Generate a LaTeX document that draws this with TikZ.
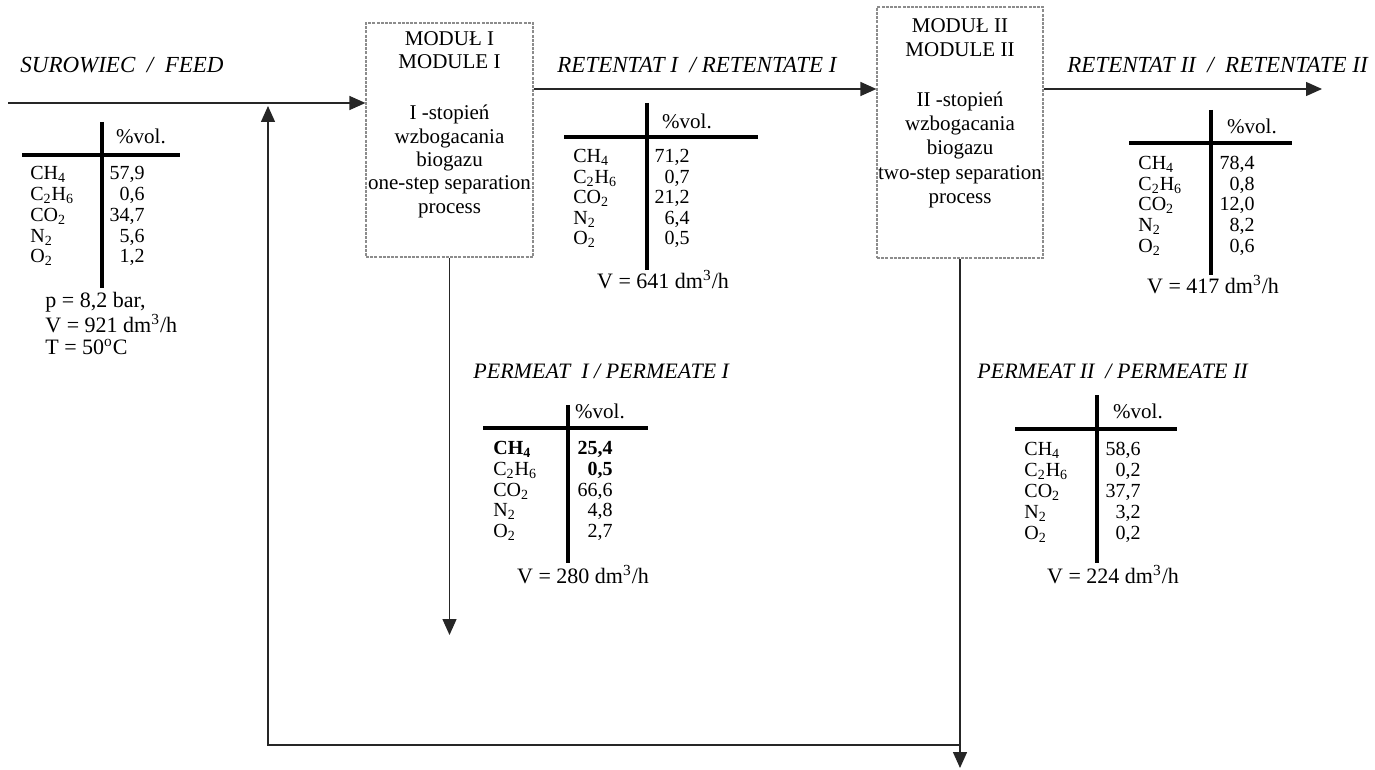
\documentclass[tikz,border=0pt]{standalone}
\usepackage{fontspec}
\setmainfont{Liberation Serif}
\usetikzlibrary{arrows.meta}

\begin{document}
\begin{tikzpicture}[x=0.5pt,y=-0.5pt]
\tikzset{
  every node/.style={inner sep=0pt, font=\fontsize{10}{12}\selectfont},
  flow/.style={line width=0.7pt, draw=black!85, -{Triangle[length=8pt,width=7pt]}},
  modbox/.style={draw=black!45, line width=0.6pt, dash pattern=on 1.5pt off 0.6pt},
  boxtext/.style={anchor=north, align=center},
  lbl/.style={anchor=base west, font=\fontsize{11.5}{13}\selectfont\itshape},
  tline/.style={line width=1.6pt},
  gasname/.style={anchor=base west},
  gasval/.style={anchor=base east},
  vol/.style={anchor=base, font=\fontsize{10.5}{12}\selectfont},
  flowrate/.style={anchor=base, font=\fontsize{11}{13}\selectfont}
}
\useasboundingbox (0,0) rectangle (1375,770);

% Modules
\node[modbox, minimum width=83.5pt, minimum height=117pt] (m1) at (449.5,140) {};
\node[modbox, minimum width=83pt, minimum height=125.5pt] (m2) at (960,132.5) {};
\node[boxtext, font=\fontsize{10.5}{11.65}\selectfont] (m1txt) at (449.5,31)
  {MODUŁ I\\MODULE I\\[14pt]I -stopień\\wzbogacania\\biogazu\\one-step separation\\process};
\node[boxtext, font=\fontsize{10.5}{12.15}\selectfont] (m2txt) at (960,18)
  {MODUŁ II\\MODULE II\\[12.6pt]II -stopień\\wzbogacania\\biogazu\\two-step separation\\process};

% Stream labels
\node[lbl] (feedlbl) at (20,73) {SUROWIEC\ \ /\ \ FEED};
\node[lbl] (ret1lbl) at (557,73) {RETENTAT I\ \ / RETENTATE I};
\node[lbl] (ret2lbl) at (1067,73) {RETENTAT II\ \ /\ \ RETENTATE II};
\node[lbl, font=\fontsize{11}{13}\selectfont\itshape] (per1lbl) at (473,378) {PERMEAT\ \ I / PERMEATE I};
\node[lbl, font=\fontsize{11}{13}\selectfont\itshape] (per2lbl) at (977,378) {PERMEAT II\ \ / PERMEATE II};

% Flows
\coordinate (feedin) at (8,103);
\coordinate (ret) at (0,89);
\coordinate (r2out) at (1322,89);
\coordinate (p1out) at (449.5,635);
\coordinate (p2out) at (960,768);
\coordinate (rc) at (960,745);
\coordinate (rcin) at (268,106);
\draw[flow] (feedin) -- (feedin -| m1.west);
\draw[flow] (m1.east |- ret) -- (m2.west |- ret);
\draw[flow] (m2.east |- ret) -- (r2out);
\draw[flow] (m1.south) -- (p1out);
\draw[flow] (m2.south) -- (p2out);
\draw[flow] (rc) -- (rcin |- rc) -- (rcin);

% Feed composition
\draw[tline] (102,122) -- (102,288);
\draw[tline] (22,155) -- (180,155);
\node[vol] (fvol) at (141,143.5) {\%vol.};
\foreach \g/\v [count=\i from 0] in {CH\textsubscript{4}/{57,9}, C\textsubscript{2}H\textsubscript{6}/{0,6}, CO\textsubscript{2}/{34,7}, N\textsubscript{2}/{5,6}, O\textsubscript{2}/{1,2}}{
  \node[gasname] (fn\i) at ({30},{180+20.75*\i}) {\g};
  \node[gasval] (fv\i) at ({145},{180+20.75*\i}) {\v};
}
\node[anchor=north west, align=left, font=\fontsize{11}{11}\selectfont] (fcond) at (45,292)
  {p = 8,2 bar,\\V = 921 dm\textsuperscript{3}/h\\T = 50\textsuperscript{o}C};

% Retentate I composition
\draw[tline] (647,103) -- (647,270);
\draw[tline] (564,137) -- (758,137);
\node[vol] (r1vol) at (687,128.5) {\%vol.};
\foreach \g/\v [count=\i from 0] in {CH\textsubscript{4}/{71,2}, C\textsubscript{2}H\textsubscript{6}/{0,7}, CO\textsubscript{2}/{21,2}, N\textsubscript{2}/{6,4}, O\textsubscript{2}/{0,5}}{
  \node[gasname] (r1n\i) at ({573},{163+20.5*\i}) {\g};
  \node[gasval] (r1v\i) at ({690},{163+20.5*\i}) {\v};
}
\node[flowrate] (r1rate) at (663,288.5) {V = 641 dm\textsuperscript{3}/h};

% Retentate II composition
\draw[tline] (1211,110) -- (1211,275);
\draw[tline] (1129,143) -- (1292,143);
\node[vol] (r2vol) at (1252,133.5) {\%vol.};
\foreach \g/\v [count=\i from 0] in {CH\textsubscript{4}/{78,4}, C\textsubscript{2}H\textsubscript{6}/{0,8}, CO\textsubscript{2}/{12,0}, N\textsubscript{2}/{8,2}, O\textsubscript{2}/{0,6}}{
  \node[gasname] (r2n\i) at ({1138},{169.5+20.75*\i}) {\g};
  \node[gasval] (r2v\i) at ({1255},{169.5+20.75*\i}) {\v};
}
\node[flowrate] (r2rate) at (1213,293.5) {V = 417 dm\textsuperscript{3}/h};

% Permeate I composition
\draw[tline] (568,405) -- (568,563);
\draw[tline] (483,428) -- (648,428);
\node[vol] (p1vol) at (600,418.5) {\%vol.};
\foreach \g/\v [count=\i from 0] in {\textbf{CH\textsubscript{4}}/{\textbf{25,4}}, C\textsubscript{2}H\textsubscript{6}/{\textbf{0,5}}, CO\textsubscript{2}/{66,6}, N\textsubscript{2}/{4,8}, O\textsubscript{2}/{2,7}}{
  \node[gasname] (p1n\i) at ({493},{454.5+20.75*\i}) {\g};
  \node[gasval] (p1v\i) at ({613},{454.5+20.75*\i}) {\v};
}
\node[flowrate] (p1rate) at (583,583.5) {V = 280 dm\textsuperscript{3}/h};

% Permeate II composition
\draw[tline] (1097,395) -- (1097,563);
\draw[tline] (1015,429) -- (1177,429);
\node[vol] (p2vol) at (1138,418.5) {\%vol.};
\foreach \g/\v [count=\i from 0] in {CH\textsubscript{4}/{58,6}, C\textsubscript{2}H\textsubscript{6}/{0,2}, CO\textsubscript{2}/{37,7}, N\textsubscript{2}/{3,2}, O\textsubscript{2}/{0,2}}{
  \node[gasname] (p2n\i) at ({1024},{455.5+21*\i}) {\g};
  \node[gasval] (p2v\i) at ({1141},{455.5+21*\i}) {\v};
}
\node[flowrate] (p2rate) at (1113,583.5) {V = 224 dm\textsuperscript{3}/h};

\end{tikzpicture}
\end{document}
